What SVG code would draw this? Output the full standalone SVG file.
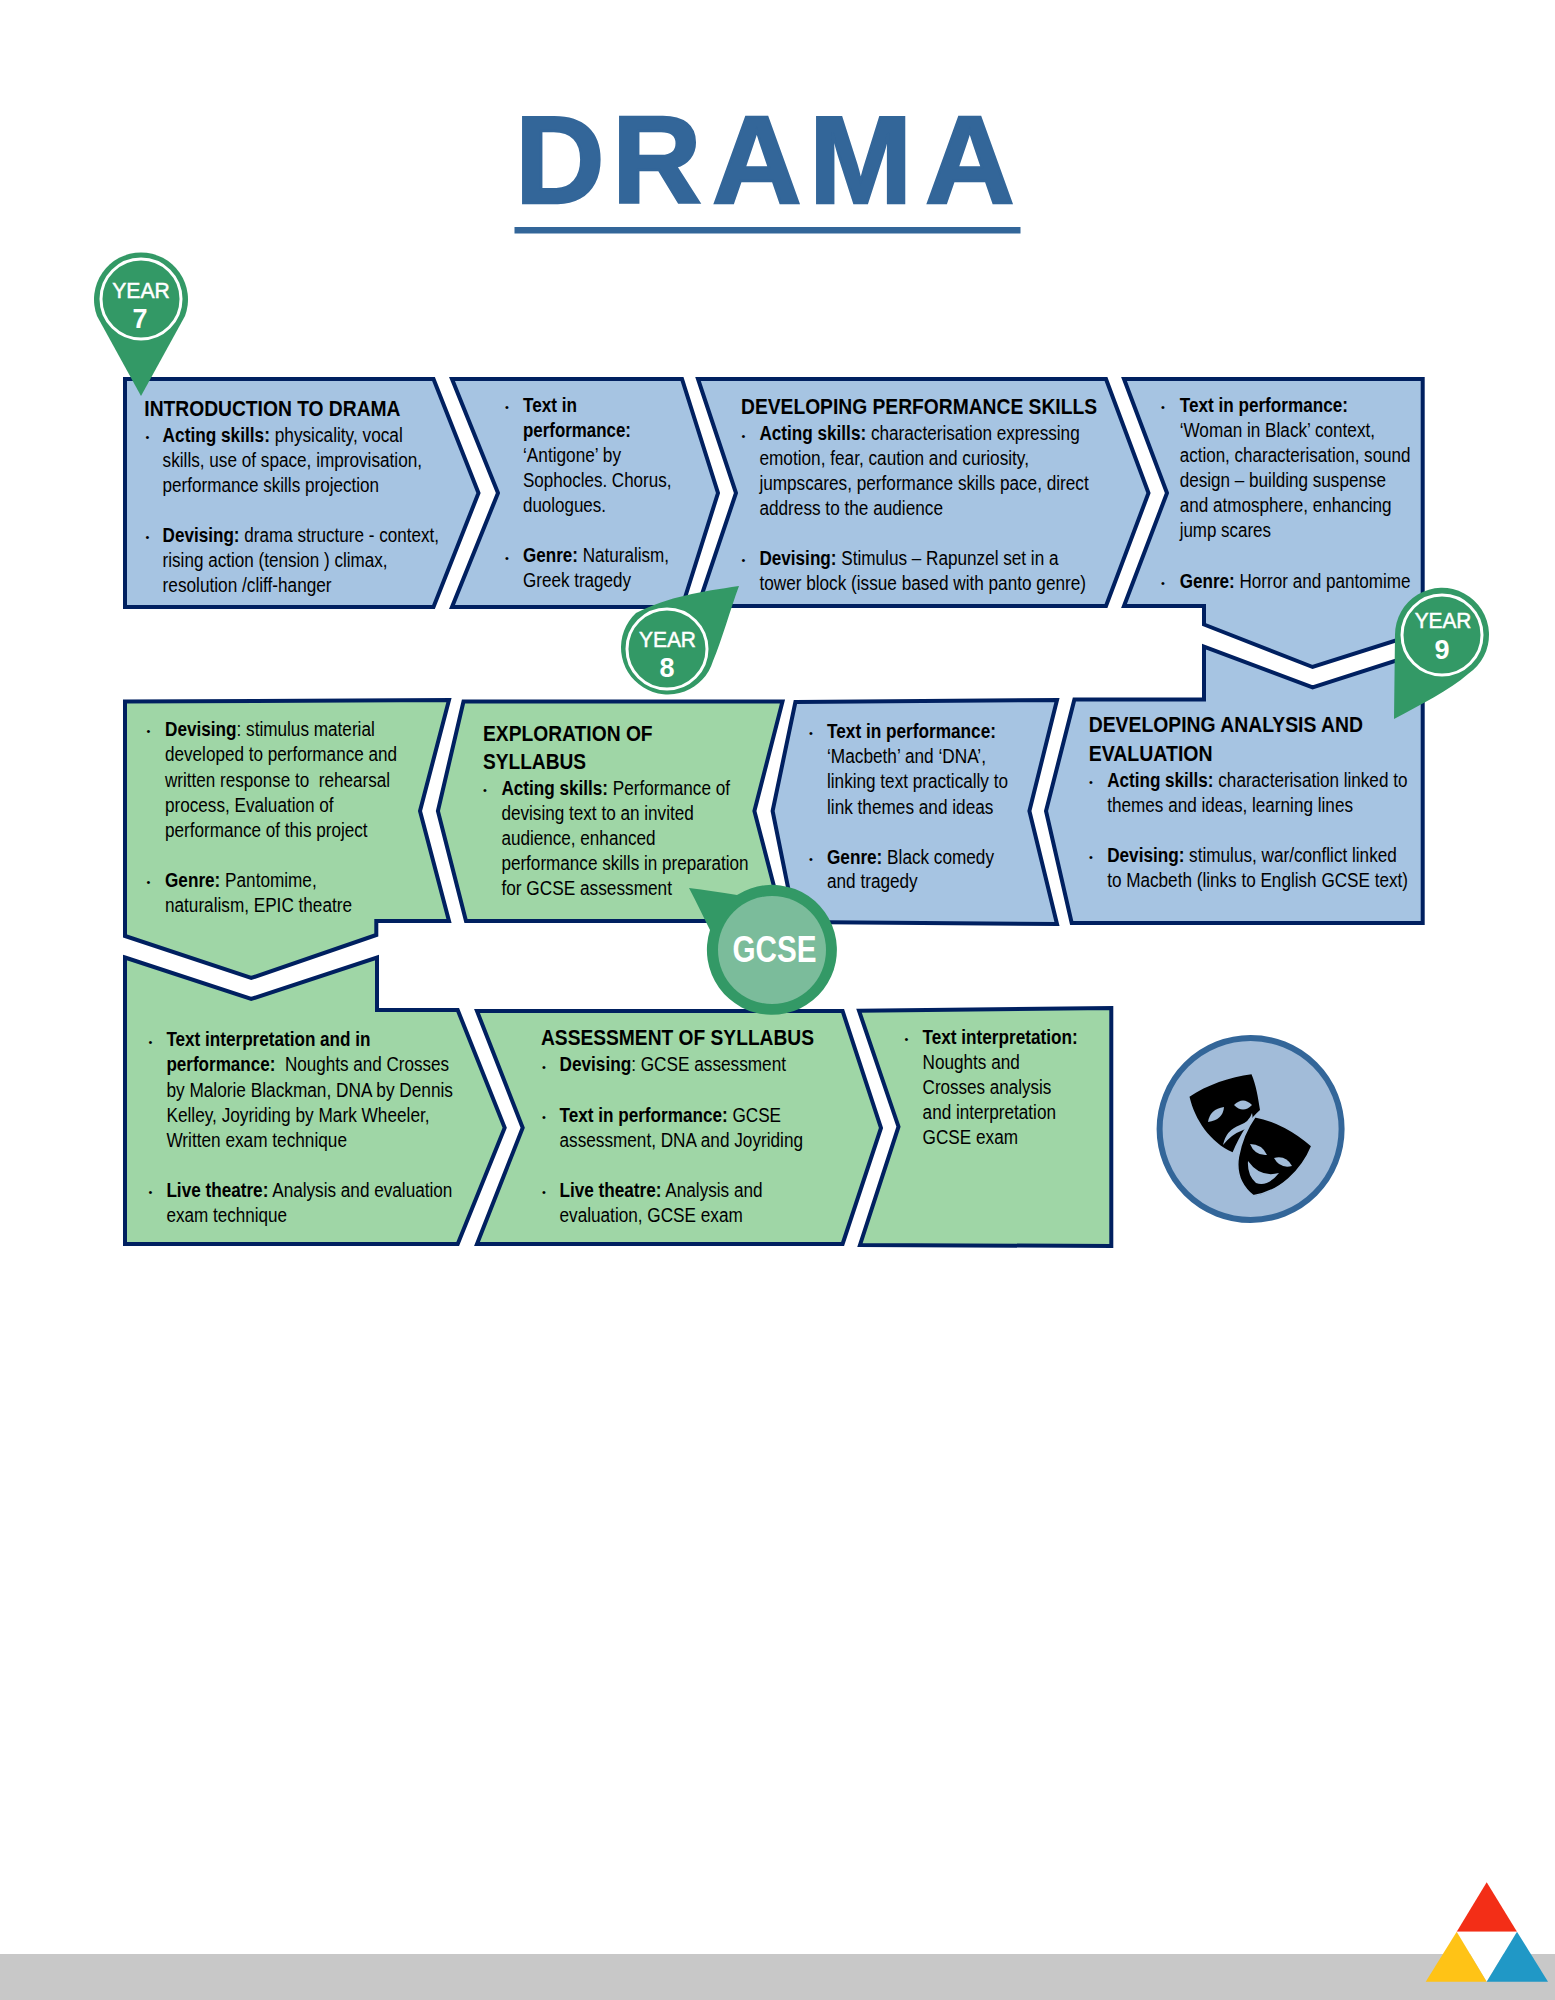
<svg xmlns="http://www.w3.org/2000/svg" width="1555" height="2000" viewBox="0 0 1555 2000">
<style>
text{font-family:"Liberation Sans",Arial,sans-serif;white-space:pre;fill:#000}
.t{font-size:19.5px}
.h{font-size:22px;font-weight:bold}
.b{font-size:11px;text-anchor:middle}
tspan.s{font-weight:bold}
.blue{fill:#a6c4e2;stroke:#002060;stroke-width:4;stroke-linejoin:miter}
.green{fill:#9fd6a6;stroke:#002060;stroke-width:4;stroke-linejoin:miter}
.pin{fill:#339966}
.ring{fill:#339966;stroke:#fff;stroke-width:3}
.y{font-size:22px;fill:#fff;stroke:#fff;stroke-width:.5;text-anchor:middle}
.n{font-size:27px;fill:#fff;text-anchor:middle;font-weight:bold}
.mask{fill:#000}
.eye{fill:#a2bcd9}
</style>
<rect width="1555" height="2000" fill="#fff"/>
<rect x="0" y="1954" width="1555" height="46" fill="#c8c8c8"/>
<g id="title">
<text x="515 612 712 809 925" y="203" style="font-weight:bold;font-size:124px;fill:#336699;stroke:#336699;stroke-width:2.5">DRAMA</text>
<rect x="514.5" y="227" width="506" height="6.5" fill="#336699"/>
</g>
<g id="box-intro">
<path class="blue" d="M125 379H433.5L478.5 493L433.5 607H125Z"/>
<text class="h" x="144.3" y="415.7" textLength="256.2" lengthAdjust="spacingAndGlyphs">INTRODUCTION TO DRAMA</text>
<text class="b" x="147.5" y="441">•</text>
<text class="t" x="162.6" y="441.7" textLength="240.2" lengthAdjust="spacingAndGlyphs"><tspan class="s">Acting skills:</tspan> physicality, vocal</text>
<text class="t" x="162.6" y="466.7" textLength="259.4" lengthAdjust="spacingAndGlyphs">skills, use of space, improvisation,</text>
<text class="t" x="162.6" y="491.7" textLength="216.4" lengthAdjust="spacingAndGlyphs">performance skills projection</text>
<text class="b" x="147.5" y="541">•</text>
<text class="t" x="162.6" y="542" textLength="276.4" lengthAdjust="spacingAndGlyphs"><tspan class="s">Devising:</tspan> drama structure - context,</text>
<text class="t" x="162.6" y="567" textLength="225" lengthAdjust="spacingAndGlyphs">rising action (tension ) climax,</text>
<text class="t" x="162.6" y="592" textLength="169" lengthAdjust="spacingAndGlyphs">resolution /cliff-hanger</text>
</g>
<g id="box-antigone">
<path class="blue" d="M452 379H682L718 493L682 607H452L498 493Z"/>
<text class="b" x="507" y="411">•</text>
<text class="t" x="523" y="411.7" textLength="54" lengthAdjust="spacingAndGlyphs"><tspan class="s">Text in</tspan></text>
<text class="t" x="523" y="436.7" textLength="108" lengthAdjust="spacingAndGlyphs"><tspan class="s">performance:</tspan></text>
<text class="t" x="523" y="461.7" textLength="98" lengthAdjust="spacingAndGlyphs">‘Antigone’ by</text>
<text class="t" x="523" y="487" textLength="148.4" lengthAdjust="spacingAndGlyphs">Sophocles. Chorus,</text>
<text class="t" x="523" y="512" textLength="83" lengthAdjust="spacingAndGlyphs">duologues.</text>
<text class="b" x="507" y="561.5">•</text>
<text class="t" x="523" y="562.3" textLength="146" lengthAdjust="spacingAndGlyphs"><tspan class="s">Genre:</tspan> Naturalism,</text>
<text class="t" x="523" y="587.3" textLength="108" lengthAdjust="spacingAndGlyphs">Greek tragedy</text>
</g>
<g id="box-developing-performance">
<path class="blue" d="M698 379H1106L1148.5 493L1106 606H698L736 493Z"/>
<text class="h" x="741" y="413.6" textLength="356" lengthAdjust="spacingAndGlyphs">DEVELOPING PERFORMANCE SKILLS</text>
<text class="b" x="743.5" y="439.5">•</text>
<text class="t" x="759.4" y="440.3" textLength="320.3" lengthAdjust="spacingAndGlyphs"><tspan class="s">Acting skills:</tspan> characterisation expressing</text>
<text class="t" x="759.4" y="465" textLength="269.6" lengthAdjust="spacingAndGlyphs">emotion, fear, caution and curiosity,</text>
<text class="t" x="759.4" y="490.2" textLength="329.3" lengthAdjust="spacingAndGlyphs">jumpscares, performance skills pace, direct</text>
<text class="t" x="759.4" y="514.6" textLength="183.6" lengthAdjust="spacingAndGlyphs">address to the audience</text>
<text class="b" x="743.5" y="564">•</text>
<text class="t" x="759.4" y="565" textLength="299.1" lengthAdjust="spacingAndGlyphs"><tspan class="s">Devising:</tspan> Stimulus – Rapunzel set in a</text>
<text class="t" x="759.4" y="590" textLength="326.6" lengthAdjust="spacingAndGlyphs">tower block (issue based with panto genre)</text>
</g>
<g id="box-woman-in-black">
<path class="blue" d="M1124 379H1422.7V632L1312.6 667L1204 624.5V606H1124L1167 493Z"/>
<text class="b" x="1163" y="411">•</text>
<text class="t" x="1179.7" y="412" textLength="168.3" lengthAdjust="spacingAndGlyphs"><tspan class="s">Text in performance:</tspan></text>
<text class="t" x="1179.7" y="437" textLength="195.3" lengthAdjust="spacingAndGlyphs">‘Woman in Black’ context,</text>
<text class="t" x="1179.7" y="462" textLength="230.8" lengthAdjust="spacingAndGlyphs">action, characterisation, sound</text>
<text class="t" x="1179.7" y="487" textLength="206.3" lengthAdjust="spacingAndGlyphs">design – building suspense</text>
<text class="t" x="1179.7" y="512.4" textLength="211.8" lengthAdjust="spacingAndGlyphs">and atmosphere, enhancing</text>
<text class="t" x="1179.7" y="537" textLength="91.3" lengthAdjust="spacingAndGlyphs">jump scares</text>
<text class="b" x="1163" y="587">•</text>
<text class="t" x="1179.7" y="587.5" textLength="230.8" lengthAdjust="spacingAndGlyphs"><tspan class="s">Genre:</tspan> Horror and pantomime</text>
</g>
<g id="box-developing-analysis">
<path class="blue" d="M1074.4 699.6H1204V646.7L1312.6 687.4L1422.7 652V923H1071.7L1046 811Z"/>
<text class="h" x="1088.7" y="731.8" textLength="274.3" lengthAdjust="spacingAndGlyphs">DEVELOPING ANALYSIS AND</text>
<text class="h" x="1088.7" y="760.7" textLength="123.9" lengthAdjust="spacingAndGlyphs">EVALUATION</text>
<text class="b" x="1091" y="786">•</text>
<text class="t" x="1107.2" y="786.6" textLength="300.2" lengthAdjust="spacingAndGlyphs"><tspan class="s">Acting skills:</tspan> characterisation linked to</text>
<text class="t" x="1107.2" y="811.7" textLength="245.8" lengthAdjust="spacingAndGlyphs">themes and ideas, learning lines</text>
<text class="b" x="1091" y="861">•</text>
<text class="t" x="1107.2" y="862" textLength="289.6" lengthAdjust="spacingAndGlyphs"><tspan class="s">Devising:</tspan> stimulus, war/conflict linked</text>
<text class="t" x="1107.2" y="887" textLength="300.8" lengthAdjust="spacingAndGlyphs">to Macbeth (links to English GCSE text)</text>
</g>
<g id="box-macbeth">
<path class="blue" d="M795.4 702L1057 700L1029.4 811L1057 924L795 922L772.6 811Z"/>
<text class="b" x="811" y="737">•</text>
<text class="t" x="827" y="738" textLength="169" lengthAdjust="spacingAndGlyphs"><tspan class="s">Text in performance:</tspan></text>
<text class="t" x="827" y="763" textLength="159" lengthAdjust="spacingAndGlyphs">‘Macbeth’ and ‘DNA’,</text>
<text class="t" x="827" y="788.4" textLength="181" lengthAdjust="spacingAndGlyphs">linking text practically to</text>
<text class="t" x="827" y="813.6" textLength="166.4" lengthAdjust="spacingAndGlyphs">link themes and ideas</text>
<text class="b" x="811" y="862.5">•</text>
<text class="t" x="827" y="863.5" textLength="167" lengthAdjust="spacingAndGlyphs"><tspan class="s">Genre:</tspan> Black comedy</text>
<text class="t" x="827" y="888.3" textLength="90.7" lengthAdjust="spacingAndGlyphs">and tragedy</text>
</g>
<g id="box-exploration">
<path class="green" d="M463.5 701.5H782.5L754.4 811L783 921H466L437.9 811Z"/>
<text class="h" x="483" y="741" textLength="169.6" lengthAdjust="spacingAndGlyphs">EXPLORATION OF</text>
<text class="h" x="483" y="768.8" textLength="103" lengthAdjust="spacingAndGlyphs">SYLLABUS</text>
<text class="b" x="485" y="794">•</text>
<text class="t" x="501.4" y="794.7" textLength="228.6" lengthAdjust="spacingAndGlyphs"><tspan class="s">Acting skills:</tspan> Performance of</text>
<text class="t" x="501.4" y="819.8" textLength="192.4" lengthAdjust="spacingAndGlyphs">devising text to an invited</text>
<text class="t" x="501.4" y="845" textLength="154.1" lengthAdjust="spacingAndGlyphs">audience, enhanced</text>
<text class="t" x="501.4" y="870" textLength="247.2" lengthAdjust="spacingAndGlyphs">performance skills in preparation</text>
<text class="t" x="501.4" y="895" textLength="170.6" lengthAdjust="spacingAndGlyphs">for GCSE assessment</text>
</g>
<g id="box-devising">
<path class="green" d="M125 701.5L449 700L420 811L449 921H376.3V935L251.2 978L125 936Z"/>
<text class="b" x="148.5" y="735">•</text>
<text class="t" x="165" y="736" textLength="209.8" lengthAdjust="spacingAndGlyphs"><tspan class="s">Devising</tspan>: stimulus material</text>
<text class="t" x="165" y="761.4" textLength="232" lengthAdjust="spacingAndGlyphs">developed to performance and</text>
<text class="t" x="165" y="786.5" textLength="225" lengthAdjust="spacingAndGlyphs">written response to  rehearsal</text>
<text class="t" x="165" y="811.7" textLength="168.6" lengthAdjust="spacingAndGlyphs">process, Evaluation of</text>
<text class="t" x="165" y="836.5" textLength="202.6" lengthAdjust="spacingAndGlyphs">performance of this project</text>
<text class="b" x="148.5" y="886">•</text>
<text class="t" x="165" y="887" textLength="151.7" lengthAdjust="spacingAndGlyphs"><tspan class="s">Genre:</tspan> Pantomime,</text>
<text class="t" x="165" y="912" textLength="187" lengthAdjust="spacingAndGlyphs">naturalism, EPIC theatre</text>
</g>
<g id="box-text-interpretation">
<path class="green" d="M125 957.5L251.2 999L377 957.5V1010H457.7L504.7 1127.7L457.7 1244H125Z"/>
<text class="b" x="150.4" y="1045.5">•</text>
<text class="t" x="166.4" y="1046.3" textLength="204.1" lengthAdjust="spacingAndGlyphs"><tspan class="s">Text interpretation and in</tspan></text>
<text class="t" x="166.4" y="1071.4" textLength="282.6" lengthAdjust="spacingAndGlyphs"><tspan class="s">performance:</tspan>  Noughts and Crosses</text>
<text class="t" x="166.4" y="1096.6" textLength="286.6" lengthAdjust="spacingAndGlyphs">by Malorie Blackman, DNA by Dennis</text>
<text class="t" x="166.4" y="1121.7" textLength="263.2" lengthAdjust="spacingAndGlyphs">Kelley, Joyriding by Mark Wheeler,</text>
<text class="t" x="166.4" y="1147" textLength="180.6" lengthAdjust="spacingAndGlyphs">Written exam technique</text>
<text class="b" x="150.4" y="1196">•</text>
<text class="t" x="166.4" y="1196.8" textLength="286" lengthAdjust="spacingAndGlyphs"><tspan class="s">Live theatre:</tspan> Analysis and evaluation</text>
<text class="t" x="166.4" y="1222" textLength="120.6" lengthAdjust="spacingAndGlyphs">exam technique</text>
</g>
<g id="box-assessment">
<path class="green" d="M477 1011H842.6L881 1128L842.6 1244H477L522.7 1127.7Z"/>
<text class="h" x="541" y="1045" textLength="273" lengthAdjust="spacingAndGlyphs">ASSESSMENT OF SYLLABUS</text>
<text class="b" x="544" y="1070.5">•</text>
<text class="t" x="559.5" y="1071.4" textLength="226.5" lengthAdjust="spacingAndGlyphs"><tspan class="s">Devising</tspan>: GCSE assessment</text>
<text class="b" x="544" y="1121">•</text>
<text class="t" x="559.5" y="1121.7" textLength="221.5" lengthAdjust="spacingAndGlyphs"><tspan class="s">Text in performance:</tspan> GCSE</text>
<text class="t" x="559.5" y="1147" textLength="243.5" lengthAdjust="spacingAndGlyphs">assessment, DNA and Joyriding</text>
<text class="b" x="544" y="1196">•</text>
<text class="t" x="559.5" y="1196.8" textLength="203.1" lengthAdjust="spacingAndGlyphs"><tspan class="s">Live theatre:</tspan> Analysis and</text>
<text class="t" x="559.5" y="1222" textLength="183.3" lengthAdjust="spacingAndGlyphs">evaluation, GCSE exam</text>
</g>
<g id="box-final">
<path class="green" d="M859 1010.7L1111.3 1008V1246L860 1245L898.5 1126.7Z"/>
<text class="b" x="906.5" y="1043">•</text>
<text class="t" x="922.6" y="1044" textLength="155" lengthAdjust="spacingAndGlyphs"><tspan class="s">Text interpretation:</tspan></text>
<text class="t" x="922.6" y="1069" textLength="97.2" lengthAdjust="spacingAndGlyphs">Noughts and</text>
<text class="t" x="922.6" y="1094" textLength="128.8" lengthAdjust="spacingAndGlyphs">Crosses analysis</text>
<text class="t" x="922.6" y="1119" textLength="133.4" lengthAdjust="spacingAndGlyphs">and interpretation</text>
<text class="t" x="922.6" y="1144" textLength="95.4" lengthAdjust="spacingAndGlyphs">GCSE exam</text>
</g>
<g id="pin-year7">
<path class="pin" d="M141 396L97 316A47 47 0 1 1 185 316Z"/>
<circle class="ring" cx="141" cy="299" r="40"/>
<text class="y" x="141" y="298" textLength="57.5" lengthAdjust="spacingAndGlyphs">YEAR</text>
<text class="n" x="140" y="328">7</text>
</g>
<g id="pin-year8">
<path class="pin" d="M739 586C700 592 670 596 636 613A47 47 0 1 0 713 661C722 640 730 610 739 586Z"/>
<circle class="ring" cx="667" cy="649" r="40"/>
<text class="y" x="667.5" y="647.3" textLength="57" lengthAdjust="spacingAndGlyphs">YEAR</text>
<text class="n" x="667" y="677">8</text>
</g>
<g id="pin-year9">
<path class="pin" d="M1394 719L1395 635A47 47 0 1 1 1468 674C1450 690 1420 705 1394 719Z"/>
<circle class="ring" cx="1442" cy="635" r="40"/>
<text class="y" x="1443" y="628" textLength="56.7" lengthAdjust="spacingAndGlyphs">YEAR</text>
<text class="n" x="1442" y="659">9</text>
</g>
<g id="pin-gcse">
<path class="pin" d="M689 888C705 890 720 892 737 895A65 65 0 1 1 710 930C703 916 697 903 689 888Z"/>
<circle cx="772" cy="950" r="54" fill="#7bbc9b"/>
<text x="774.5" y="962" text-anchor="middle" textLength="84" lengthAdjust="spacingAndGlyphs" style="font-size:36px;font-weight:bold;fill:#fff">GCSE</text>
</g>
<g id="masks-icon">
<circle cx="1250.6" cy="1129" r="91" fill="#a2bcd9" stroke="#336699" stroke-width="6"/>
<path class="mask" d="M1251.5 1074.3C1230 1077 1207 1085 1189.5 1096.7C1195 1120 1210 1142 1232.6 1152.3C1240 1135 1250 1118 1260 1110C1258 1097 1256 1085 1251.5 1074.3Z"/>
<path class="eye" d="M1234 1105Q1243 1096 1252 1105Q1243 1114 1234 1105Z"/>
<path class="eye" d="M1208 1122Q1210 1109 1224 1107Q1223 1120 1208 1122Z"/>
<path class="eye" d="M1223 1145Q1226 1130 1240 1125Q1249 1122 1252 1113Q1255 1125 1241 1131Q1232 1134 1223 1145Z"/>
<path class="mask" d="M1255 1116.7C1275 1120 1296 1132 1311.8 1146C1302 1170 1280 1192 1253.2 1195.7C1240 1185 1236 1172 1238.4 1157C1241 1142 1247 1128 1255 1116.7Z" stroke="#a2bcd9" stroke-width="1.5"/>
<path class="eye" d="M1250 1144Q1262 1144 1267 1155Q1255 1156 1250 1144Z"/>
<path class="eye" d="M1274 1158Q1286 1155 1292 1166Q1280 1169 1274 1158Z"/>
<path class="eye" d="M1248 1161Q1260 1178 1279 1173Q1268 1187 1256 1183Q1247 1175 1248 1161Z"/>
</g>
<g id="logo">
<path d="M1486.7 1882.3L1517 1931.7H1456.7Z" fill="#f32e17"/>
<path d="M1456.7 1931.7L1517 1931.7L1486.7 1981.7Z" fill="#fff"/>
<path d="M1456.7 1931.7L1486.7 1981.7H1425.7Z" fill="#ffc316"/>
<path d="M1517 1931.7L1548 1981.7H1486.7Z" fill="#2098c6"/>
</g>
</svg>
